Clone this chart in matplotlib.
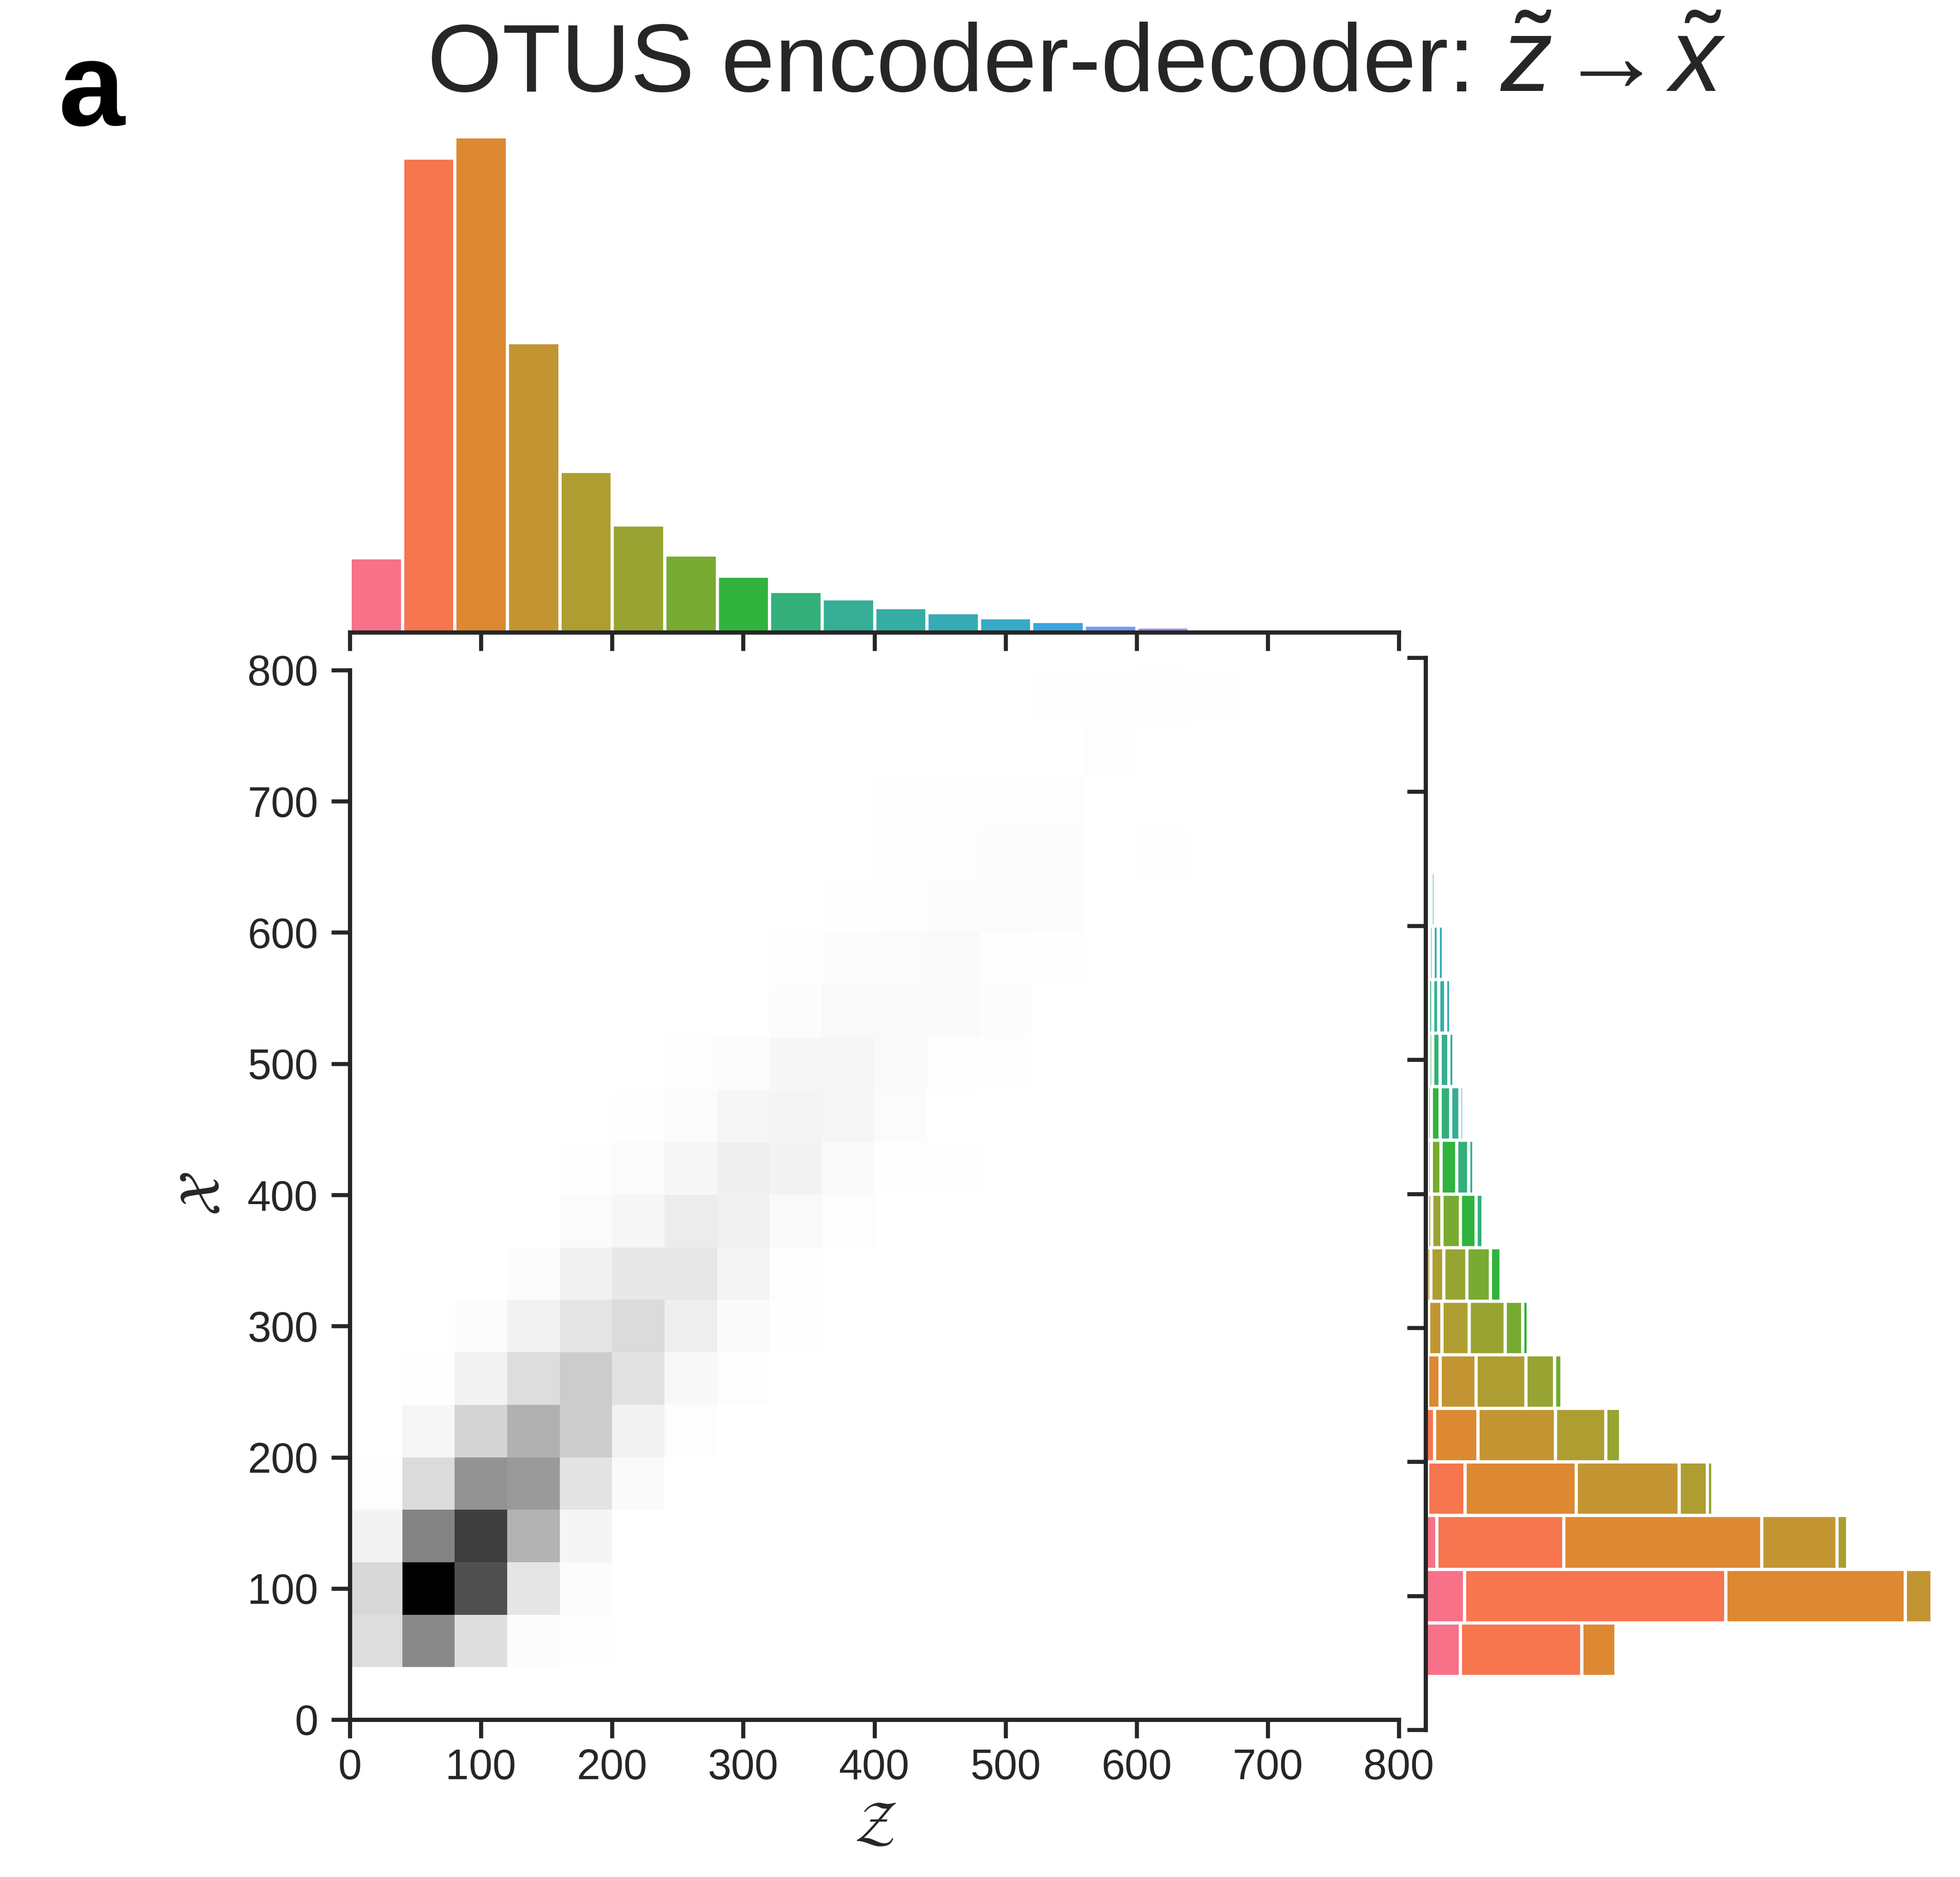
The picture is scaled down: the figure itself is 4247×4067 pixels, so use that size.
import matplotlib
matplotlib.use('Agg')
import matplotlib.pyplot as plt
import numpy as np
import seaborn as sns

W, H = 4247, 4067
DPI = 300

plt.rcParams['font.family'] = ['Liberation Sans', 'DejaVu Sans']
plt.rcParams['mathtext.fontset'] = 'custom'
plt.rcParams['mathtext.rm'] = 'Liberation Sans'
plt.rcParams['mathtext.it'] = 'Liberation Sans:italic'
plt.rcParams['mathtext.bf'] = 'Liberation Sans:bold'

INK = '#262626'

# bin width is 40 on both axes
bin_edges = np.arange(0, 801, 40)
tick_values = np.arange(0, 801, 100)

# marginal counts of z (bars on top), relative scale
z_counts = [60, 380, 397, 232, 129, 86, 62, 45, 33, 27, 20, 16, 12, 9, 6, 4.5]

# joint histogram, y bin: (first x bin, darkness of the cells)
heat_rows = {
    1: (0, [34, 118, 33, 3, 1]),
    2: (0, [39, 255, 175, 26, 4]),
    3: (0, [12, 123, 193, 76, 10]),
    4: (0, [2, 36, 108, 101, 28, 5]),
    5: (1, [9, 43, 78, 51, 13, 2]),
    6: (1, [1, 13, 34, 51, 29, 7, 2]),
    7: (2, [3, 13, 26, 36, 17, 5, 1]),
    8: (3, [3, 14, 23, 24, 11, 2]),
    9: (4, [4, 9, 19, 15, 6, 2]),
    10: (4, [1, 4, 9, 16, 12, 5, 1, 1]),
    11: (5, [1, 3, 9, 11, 9, 4]),
    12: (6, [2, 3, 8, 9, 5, 2, 1]),
    13: (8, [3, 6, 6, 5, 3]),
    14: (8, [1, 3, 4, 6, 2, 1]),
    15: (9, [1, 1, 4, 4, 3]),
    16: (10, [1, 2, 3, 3, 0, 1]),
    17: (10, [1, 1, 2, 2]),
    18: (14, [2]),
    19: (13, [1, 1, 2, 1]),
}

# marginal of x, stacked by z bin, y bin: (first z bin, segment widths)
x_stacks = {
    1: (0, [94.5, 330.5, 92.5]),
    2: (0, [105, 712, 489, 73, 9.5]),
    3: (0, [30.5, 346, 539.5, 204.5, 29]),
    4: (0, [4.5, 102, 303, 281, 77, 14]),
    5: (1, [24.5, 117, 212, 137.5, 39.5]),
    6: (1, [5, 34, 98, 136, 78, 20.5]),
    7: (2, [7, 37, 74, 98, 48, 15]),
    8: (2, [2.5, 11, 36, 62, 64, 30]),
    9: (3, [4.5, 12, 27, 51, 42, 19]),
    10: (4, [5.5, 10, 26.5, 42.5, 32, 14]),
    11: (5, [5.5, 10, 23, 30, 25, 10]),
    12: (6, [9, 9.5, 20, 24, 14.5]),
    13: (7, [7.5, 11, 17, 19, 14]),
    14: (8, [9.5, 10, 14, 14]),
    15: (9, [7, 7.5, 11]),
    16: (10, [4, 7, 9]),
}

palette = sns.color_palette('husl', 20)


def pixel_axes(fig, left, right, top, bottom):
    return fig.add_axes([left / W, 1 - bottom / H, (right - left) / W, (bottom - top) / H])


fig = plt.figure(figsize=(W / DPI, H / DPI), dpi=DPI)

ax_main = pixel_axes(fig, 758, 3031, 1452, 3726)
ax_top = pixel_axes(fig, 758, 3031, 296, 1370)
ax_right = pixel_axes(fig, 3089, 4200, 1425, 3748)

heat = np.zeros((20, 20))
for row, (start, values) in heat_rows.items():
    heat[row, start:start + len(values)] = values
ax_main.pcolormesh(bin_edges, bin_edges, heat, cmap='gray_r', vmin=0, vmax=255)
ax_main.set_xlim(0, 800)
ax_main.set_ylim(0, 800)
ax_main.set_xticks(tick_values)
ax_main.set_yticks(tick_values)

for i, c in enumerate(z_counts):
    ax_top.bar(bin_edges[i], c, width=40, align='edge', color=palette[i],
               edgecolor='white', linewidth=1.7)
ax_top.set_xlim(0, 800)
ax_top.set_ylim(0, 397)
ax_top.set_xticks(tick_values)
ax_top.set_xticklabels([])
ax_top.set_yticks([])

for row, (start, widths) in x_stacks.items():
    left = 0
    for j, w in enumerate(widths):
        ax_right.barh(bin_edges[row], w, height=40, left=left, align='edge',
                      color=palette[start + j], edgecolor='white', linewidth=1.7)
        left += w
# 1397 units over 1111 px keeps the widths
ax_right.set_xlim(0, 1397)
ax_right.set_ylim(0, 800)
ax_right.set_yticks(tick_values)
ax_right.set_yticklabels([])
ax_right.set_xticks([])

for ax in (ax_main, ax_top, ax_right):
    for side in ax.spines:
        ax.spines[side].set_visible(False)
        ax.spines[side].set_linewidth(2.2)
        ax.spines[side].set_color(INK)
    ax.tick_params(length=9.5, width=2.1, color=INK, labelcolor=INK, labelsize=22, pad=7)
ax_main.tick_params(axis='x', pad=5.3)

ax_main.spines['left'].set_visible(True)
ax_main.spines['bottom'].set_visible(True)
ax_top.spines['bottom'].set_visible(True)
ax_right.spines['left'].set_visible(True)

# the math part of the title runs a little larger than the words
fig.text(926 / W, 1 - 198 / H, 'OTUS encoder-decoder:', fontsize=50, color=INK,
         ha='left', va='baseline')
fig.text(3250 / W, 1 - 198 / H, r'$\tilde{z}\hspace{0.08}$→$\hspace{0.08}\tilde{x}$',
         fontsize=54, color=INK, ha='left', va='baseline')
fig.text(126 / W, 1 - 271 / H, 'a', fontsize=62, fontweight='bold', color='black',
         ha='left', va='baseline')
fig.text(1897 / W, 1 - 3957 / H, r'$\mathcal{Z}$', fontsize=30, color=INK, ha='center',
         va='center', math_fontfamily='stix')
fig.text(443 / W, 1 - 2587 / H, r'$\mathcal{X}$', fontsize=30, color=INK, ha='center',
         va='center', rotation=90, math_fontfamily='stix')

fig.savefig('out.png', dpi=DPI)
